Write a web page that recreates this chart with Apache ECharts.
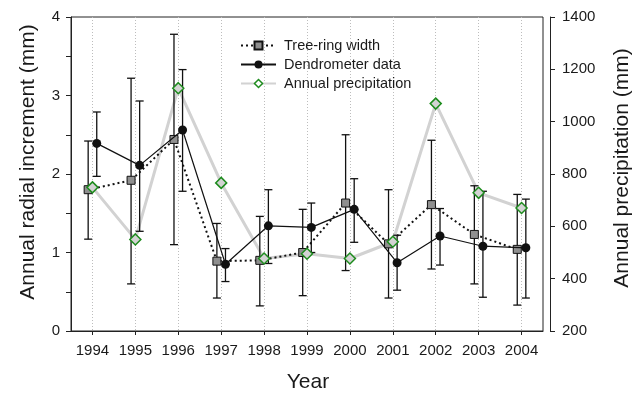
<!DOCTYPE html>
<html>
<head>
<meta charset="utf-8">
<script src="https://cdn.jsdelivr.net/npm/echarts@6/dist/echarts.min.js"></script>
<style>
  html, body { margin: 0; padding: 0; background: #fff; }
  #chart { width: 643px; height: 393px; }
</style>
</head>
<body>
<div id="chart"></div>
<script>
// Radial increment (tree rings vs. dendrometer) and annual precipitation, 1994–2004
const years = [1994, 1995, 1996, 1997, 1998, 1999, 2000, 2001, 2002, 2003, 2004];

// Tree-ring width (mm): mean and error-bar limits
const treeRing     = [1.80, 1.92, 2.44, 0.89, 0.90, 1.00, 1.63, 1.11, 1.61, 1.23, 1.04];
const treeRingLow  = [1.17, 0.60, 1.10, 0.42, 0.32, 0.45, 0.77, 0.42, 0.79, 0.60, 0.33];
const treeRingHigh = [2.42, 3.22, 3.78, 1.37, 1.46, 1.55, 2.50, 1.80, 2.43, 1.85, 1.74];

// Dendrometer data (mm): mean and error-bar limits
const dendro     = [2.39, 2.11, 2.56, 0.85, 1.34, 1.32, 1.55, 0.87, 1.21, 1.08, 1.06];
const dendroLow  = [1.97, 1.27, 1.78, 0.63, 0.86, 1.00, 1.13, 0.52, 0.84, 0.43, 0.42];
const dendroHigh = [2.79, 2.93, 3.33, 1.05, 1.80, 1.63, 1.94, 1.22, 1.56, 1.78, 1.68];

// Annual precipitation (mm)
const precip = [749, 550, 1128, 766, 477, 495, 477, 541, 1069, 728, 670];

// Axis ticks
const leftTicks = [0, 1, 2, 3, 4];
const rightTicks = [200, 400, 600, 800, 1000, 1200, 1400];

// the two increment series are nudged sideways so their error bars don't overlap
const SHIFT = 0.1;
const FONT = '"Liberation Sans", Arial, Helvetica, sans-serif';
const INK = '#1a1a1a';

const treeX = years.map(y => y - SHIFT);
const dendroX = years.map(y => y + SHIFT);

function errorBar(params, api) {
  const x = api.value(0);
  const lo = api.coord([x, api.value(1)]);
  const hi = api.coord([x, api.value(2)]);
  const cap = 4;
  const style = { stroke: '#111', lineWidth: 1.3 };
  return {
    type: 'group',
    children: [
      { type: 'line', shape: { x1: hi[0], y1: hi[1], x2: lo[0], y2: lo[1] }, style },
      { type: 'line', shape: { x1: hi[0] - cap, y1: hi[1], x2: hi[0] + cap, y2: hi[1] }, style },
      { type: 'line', shape: { x1: lo[0] - cap, y1: lo[1], x2: lo[0] + cap, y2: lo[1] }, style }
    ]
  };
}

const chart = echarts.init(document.getElementById('chart'), null, { renderer: 'canvas' });

chart.setOption({
  animation: false,
  backgroundColor: '#fff',
  textStyle: { fontFamily: FONT, color: INK },
  grid: {
    left: 71, right: 100, top: 17, bottom: 62,
    show: true, borderColor: '#222', borderWidth: 1
  },
  legend: {
    data: [
      'Tree-ring width',
      'Dendrometer data',
      { name: 'Annual precipitation', itemStyle: { color: '#ffffff', borderColor: '#1e8c1e', borderWidth: 1.5 } }
    ],
    orient: 'vertical',
    left: 240, top: 38,
    itemWidth: 35, itemHeight: 10, itemGap: 4,
    padding: 0,
    textStyle: { fontFamily: FONT, fontSize: 14.5, color: INK, lineHeight: 14, padding: [0, 0, 0, 3] }
  },
  xAxis: {
    type: 'value',
    min: 1993.5, max: 2004.5,
    axisLine: { show: true, lineStyle: { color: '#222', width: 1 } },
    axisTick: { show: true, length: 4, customValues: years, lineStyle: { color: '#222' } },
    axisLabel: {
      customValues: years, margin: 12,
      fontFamily: FONT, fontSize: 15, color: INK,
      formatter: v => String(v)
    },
    splitLine: { show: true, lineStyle: { color: '#bdbdbd', width: 1, type: [1, 2] } }
  },
  yAxis: [
    {
      type: 'value',
      min: 0, max: 4, interval: 0.5,
      axisLine: { show: true, lineStyle: { color: '#222', width: 1 } },
      axisTick: { show: true, length: 5, lineStyle: { color: '#222' } },
      axisLabel: {
        margin: 11, fontFamily: FONT, fontSize: 15, color: INK,
        formatter: v => (leftTicks.indexOf(v) >= 0 ? String(v) : '')
      },
      splitLine: { show: false }
    },
    {
      type: 'value',
      position: 'right',
      offset: 7,
      min: 200, max: 1400, interval: 200,
      axisLine: { show: true, lineStyle: { color: '#222', width: 1 } },
      axisTick: { show: true, length: 5, lineStyle: { color: '#222' } },
      axisLabel: {
        margin: 12, fontFamily: FONT, fontSize: 15, color: INK,
        formatter: v => (rightTicks.indexOf(v) >= 0 ? String(v) : '')
      },
      splitLine: { show: false }
    }
  ],
  graphic: [
    {
      type: 'text', x: 28, y: 162, rotation: Math.PI / 2,
      style: { text: 'Annual radial increment (mm)', font: '21px ' + FONT, fill: INK, align: 'center', verticalAlign: 'middle' }
    },
    {
      type: 'text', x: 622, y: 168, rotation: Math.PI / 2,
      style: { text: 'Annual precipitation (mm)', font: '21px ' + FONT, fill: INK, align: 'center', verticalAlign: 'middle' }
    },
    {
      type: 'text', x: 308, y: 382,
      style: { text: 'Year', font: '21px ' + FONT, fill: INK, align: 'center', verticalAlign: 'middle' }
    }
  ],
  series: [
    {
      name: 'Annual precipitation',
      type: 'line',
      yAxisIndex: 1,
      z: 1,
      data: years.map((y, i) => [y, precip[i]]),
      symbol: 'diamond',
      showSymbol: false,
      lineStyle: { color: '#d2d2d2', width: 3 },
      itemStyle: { color: '#d3d3d3', borderColor: '#1e8c1e', borderWidth: 1.5 }
    },
    {
      name: 'tree-ring error',
      type: 'custom',
      z: 2,
      renderItem: errorBar,
      encode: { x: 0, y: [1, 2] },
      data: years.map((y, i) => [treeX[i], treeRingLow[i], treeRingHigh[i]])
    },
    {
      name: 'dendrometer error',
      type: 'custom',
      z: 2,
      renderItem: errorBar,
      encode: { x: 0, y: [1, 2] },
      data: years.map((y, i) => [dendroX[i], dendroLow[i], dendroHigh[i]])
    },
    {
      name: 'Tree-ring width',
      type: 'line',
      z: 3,
      data: years.map((y, i) => [treeX[i], treeRing[i]]),
      symbol: 'rect',
      symbolSize: 8,
      lineStyle: { color: '#111', width: 2, type: [2, 3] },
      itemStyle: { color: '#8f8f8f', borderColor: '#111', borderWidth: 1 }
    },
    {
      name: 'Dendrometer data',
      type: 'line',
      z: 4,
      data: years.map((y, i) => [dendroX[i], dendro[i]]),
      symbol: 'circle',
      symbolSize: 9,
      lineStyle: { color: '#111', width: 1.2 },
      itemStyle: { color: '#111', borderColor: '#111', borderWidth: 0 }
    },
    {
      name: 'precipitation markers',
      type: 'scatter',
      yAxisIndex: 1,
      z: 5,
      data: years.map((y, i) => [y, precip[i]]),
      symbol: 'diamond',
      symbolSize: 11,
      itemStyle: { color: '#d3d3d3', borderColor: '#1e8c1e', borderWidth: 1.5, opacity: 1 }
    }
  ]
});
</script>
</body>
</html>
